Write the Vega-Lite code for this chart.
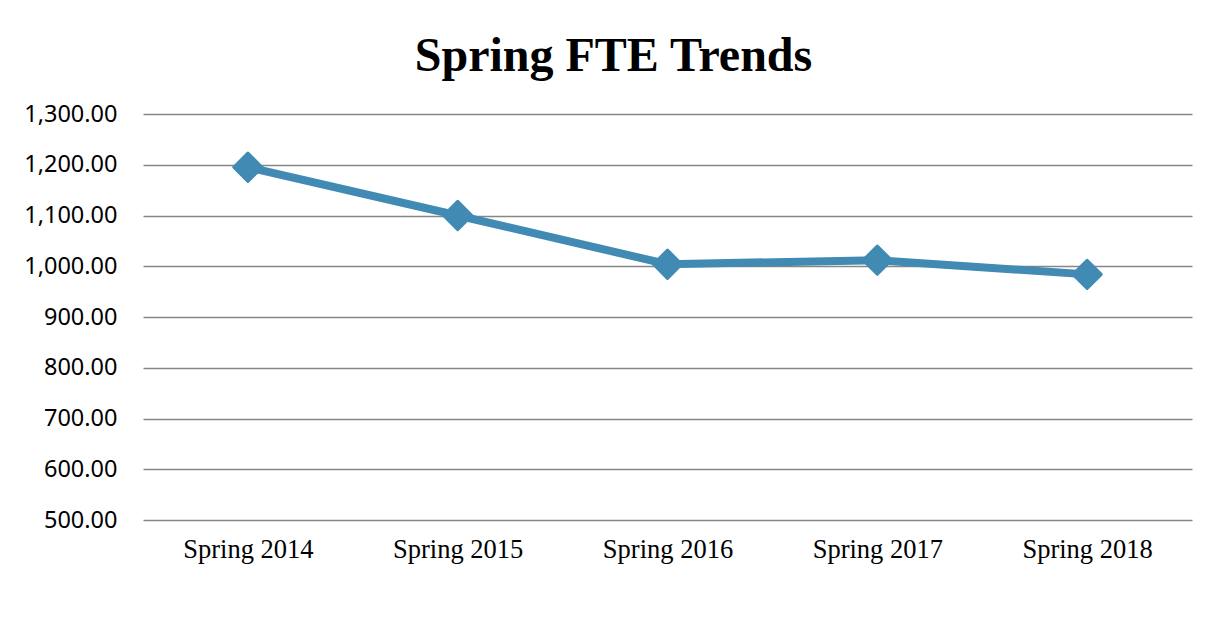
{
  "$schema": "https://vega.github.io/schema/vega-lite/v6.json",
  "width": 1049,
  "height": 406,
  "autosize": {"type": "none"},
  "padding": {"left": 143, "top": 114, "right": 21, "bottom": 115},
  "background": "white",
  "title": {
    "text": "Spring FTE Trends",
    "font": "Liberation Serif",
    "fontSize": 48,
    "fontWeight": "bold",
    "color": "#000000",
    "anchor": "middle",
    "dx": -54,
    "offset": 21
  },
  "data": {
    "values": [
      {"term": "Spring 2014", "fte": 1195},
      {"term": "Spring 2015", "fte": 1100},
      {"term": "Spring 2016", "fte": 1004},
      {"term": "Spring 2017", "fte": 1012},
      {"term": "Spring 2018", "fte": 984}
    ]
  },
  "mark": {
    "type": "line",
    "color": "#418AB3",
    "strokeWidth": 8,
    "point": {"shape": "diamond", "size": 800, "filled": true, "color": "#418AB3", "stroke": "#418AB3", "strokeWidth": 3, "strokeJoin": "round"}
  },
  "encoding": {
    "x": {
      "field": "term",
      "type": "ordinal",
      "sort": null,
      "scale": {"type": "point", "padding": 0.5},
      "axis": {
        "title": null,
        "labelAngle": 0,
        "labelFont": "Liberation Serif",
        "labelFontSize": 26.5,
        "labelColor": "#000000",
        "labelPadding": 16,
        "domain": false,
        "ticks": false,
        "grid": false
      }
    },
    "y": {
      "field": "fte",
      "type": "quantitative",
      "scale": {"domain": [500, 1300], "nice": false, "zero": false},
      "axis": {
        "title": null,
        "values": [500, 600, 700, 800, 900, 1000, 1100, 1200, 1300],
        "format": ",.2f",
        "labelFont": "Noto Sans",
        "labelFontSize": 23.5,
        "labelColor": "#000000",
        "labelPadding": 26,
        "domain": false,
        "ticks": false,
        "grid": true,
        "gridColor": "#868686",
        "gridWidth": 1.5,
        "gridOpacity": 1
      }
    }
  },
  "config": {"view": {"stroke": null}}
}
